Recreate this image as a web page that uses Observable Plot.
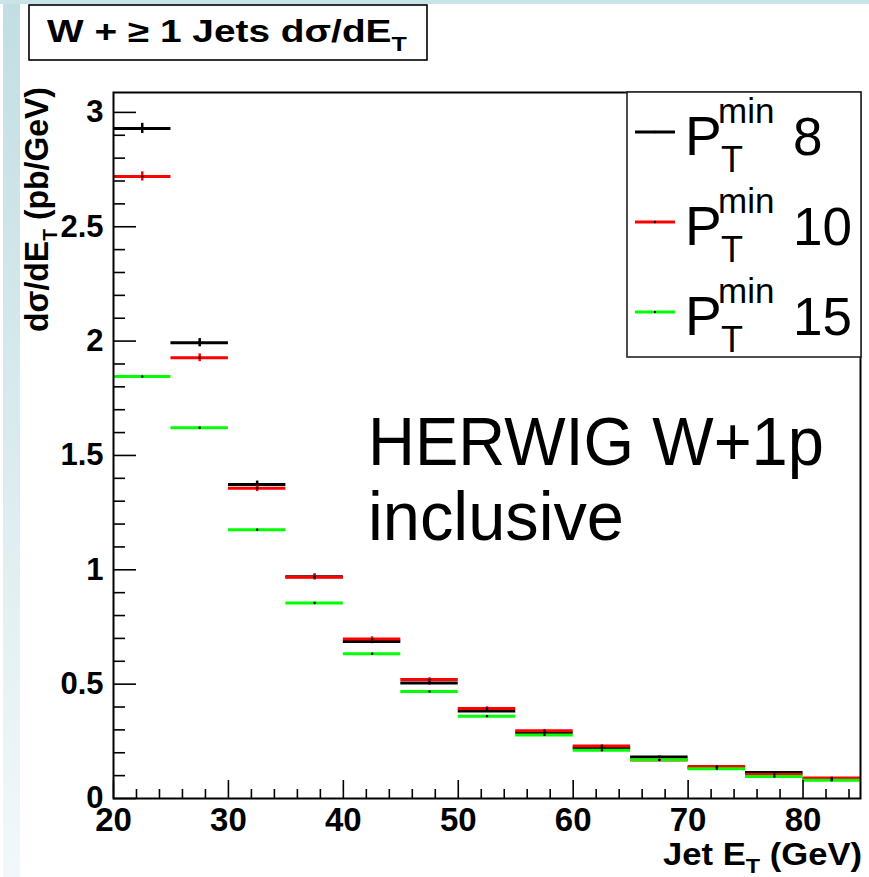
<!DOCTYPE html>
<html><head><meta charset="utf-8">
<script src="https://cdn.jsdelivr.net/npm/d3@7"></script>
<script src="https://cdn.jsdelivr.net/npm/@observablehq/plot@0.6"></script>
<style>
html,body{margin:0;padding:0;background:#fff;overflow:hidden}
#chart svg{display:block;max-width:none}
</style>
</head><body><div id="chart"></div>
<script>
// ---- data ----
const binLow = [20, 25, 30, 35, 40, 45, 50, 55, 60, 65, 70, 75, 80];
const binWidth = 5;
const seriesNames = ["8", "10", "15"];
const seriesColors = ["#000000", "#ff0000", "#00ff00"];
const pt8  = [2.930, 1.993, 1.373, 0.970, 0.687, 0.505, 0.383, 0.287, 0.221, 0.181, 0.135, 0.114, 0.085];
const pt10 = [2.720, 1.927, 1.357, 0.967, 0.697, 0.520, 0.394, 0.296, 0.230, 0.168, 0.140, 0.105, 0.090];
const pt15 = [1.845, 1.621, 1.175, 0.855, 0.633, 0.468, 0.360, 0.278, 0.211, 0.169, 0.130, 0.096, 0.080];
const err8  = [0.022, 0.018, 0.015, 0.012, 0.010, 0.008, 0.007, 0.006, 0.005, 0.005, 0.004, 0.004, 0.003];
const err10 = [0.020, 0.017, 0.015, 0.012, 0.010, 0.008, 0.007, 0.006, 0.005, 0.005, 0.004, 0.004, 0.003];
const err15 = [0.006, 0.006, 0.005, 0.005, 0.004, 0.004, 0.004, 0.003, 0.003, 0.003, 0.003, 0.002, 0.002];
const xMajor = [20, 30, 40, 50, 60, 70, 80];
const xMinor = [22, 24, 26, 28, 32, 34, 36, 38, 42, 44, 46, 48, 52, 54, 56, 58, 62, 64, 66, 68, 72, 74, 76, 78, 82, 84];
const yMajor = [0, 0.5, 1, 1.5, 2, 2.5, 3];
const yMinor = [0.1, 0.2, 0.3, 0.4, 0.6, 0.7, 0.8, 0.9, 1.1, 1.2, 1.3, 1.4, 1.6, 1.7, 1.8, 1.9,
                2.1, 2.2, 2.3, 2.4, 2.6, 2.7, 2.8, 2.9];
const xDomain = [20, 85];
const yDomain = [0, 3.087];

const values = [pt8, pt10, pt15];
const errs = [err8, err10, err15];
const rows = [];
seriesNames.forEach((s, k) => {
  binLow.forEach((lo, i) => {
    rows.push({series: s, x1: lo, x2: lo + binWidth, xc: lo + binWidth / 2,
      v: values[k][i], lo: values[k][i] - errs[k][i], hi: values[k][i] + errs[k][i]});
  });
});

const FONT = "'Liberation Sans', Arial, Helvetica, sans-serif";
const fmt = d => String(d);

const svgEl = Plot.plot({
  width: 869, height: 877,
  marginLeft: 113, marginRight: 9, marginTop: 92, marginBottom: 79,
  style: {fontFamily: FONT, background: "transparent", overflow: "visible"},
  x: {domain: xDomain},
  y: {domain: yDomain},
  color: {domain: seriesNames, range: seriesColors},
  marks: [
    Plot.ruleY(rows, {y: "v", x1: "x1", x2: "x2", stroke: "series", strokeWidth: 3}),
    Plot.ruleX(rows, {x: "xc", y1: "lo", y2: "hi", stroke: "series", strokeWidth: 2.5}),
    Plot.dot(rows, {x: "xc", y: "v", r: 1.2, fill: "black"}),
    Plot.axisY(yMajor, {tickSize: -23, fill: "none", stroke: "black", strokeWidth: 1.6, label: null}),
    Plot.axisY(yMinor, {tickSize: -12, fill: "none", stroke: "black", strokeWidth: 1.6, label: null}),
    Plot.axisY(yMajor, {tickSize: 0, tickPadding: 10, tickFormat: fmt, fontSize: 31, fontWeight: "bold", fill: "black", label: null}),
    Plot.axisX(xMajor, {tickSize: -18, fill: "none", stroke: "black", strokeWidth: 1.6, label: null}),
    Plot.axisX(xMinor, {tickSize: -9, fill: "none", stroke: "black", strokeWidth: 1.6, label: null}),
    Plot.axisX(xMajor, {tickSize: 0, tickPadding: 9, tickFormat: fmt, fontSize: 33, fontWeight: "bold", fill: "black", label: null}),
    Plot.frame({stroke: "black", strokeWidth: 2})
  ]
});
document.getElementById("chart").appendChild(svgEl);

const svg = d3.select(svgEl);

// slide background strips
const defs = svg.insert("defs", ":first-child");
const grad = defs.append("linearGradient").attr("id", "stripGrad")
  .attr("x1", 0).attr("y1", 0).attr("x2", 0).attr("y2", 1);
grad.append("stop").attr("offset", "0%").attr("stop-color", "#c2dee2");
grad.append("stop").attr("offset", "100%").attr("stop-color", "#f2f8f9");
svg.insert("rect", "defs + *").attr("x", 0).attr("y", 0).attr("width", 869).attr("height", 877).attr("fill", "#ffffff");
svg.insert("rect", "defs + rect + *").attr("x", 3).attr("y", 0).attr("width", 17).attr("height", 877).attr("fill", "url(#stripGrad)");
svg.insert("rect", "defs + rect + rect + *").attr("x", 0).attr("y", 0).attr("width", 869).attr("height", 4).attr("fill", "#c8e4e7");

function addText(x, y, size, anchor, weight) {
  return svg.append("text").attr("x", x).attr("y", y)
    .attr("text-anchor", anchor).attr("font-family", FONT)
    .attr("font-weight", weight).attr("font-size", size).attr("fill", "black");
}
function fitX(sel, x0, target) {
  const w = sel.node().getBBox().width;
  const s = target / w;
  sel.attr("transform", `translate(${x0},0) scale(${s},1) translate(${-x0},0)`);
}

// title box
svg.append("rect").attr("x", 29).attr("y", 5).attr("width", 398).attr("height", 55)
  .attr("fill", "white").attr("stroke", "black").attr("stroke-width", 1.6);
const title = addText(47, 42, 31, "start", "bold");
title.append("tspan").text("W + \u2265 1 Jets d\u03C3/dE");
title.append("tspan").attr("dy", 9).attr("font-size", 20).text("T");
fitX(title, 47, 360);

// y axis label (rotated, reading bottom to top, ending near the top of the axis)
const ylab = svg.append("text").attr("text-anchor", "end")
  .attr("font-family", FONT).attr("font-weight", "bold").attr("font-size", 33).attr("fill", "black");
ylab.append("tspan").text("d\u03C3/dE");
ylab.append("tspan").attr("dy", 9).attr("font-size", 20).text("T");
ylab.append("tspan").attr("dy", -9).text(" (pb/GeV)");
{
  const w = ylab.node().getBBox().width;
  ylab.attr("transform", `translate(48,87) rotate(-90) scale(${245 / w},1)`);
}

// x axis label
const xlab = addText(862, 865, 31, "end", "bold");
xlab.append("tspan").text("Jet E");
xlab.append("tspan").attr("dy", 8).attr("font-size", 21).text("T");
xlab.append("tspan").attr("dy", -8).text(" (GeV)");
fitX(xlab, 862, 199);

// annotation
const ann1 = addText(368, 465, 69, "start", "normal").text("HERWIG W+1p");
fitX(ann1, 368, 456);
const ann2 = addText(368, 540, 69, "start", "normal").text("inclusive");
fitX(ann2, 368, 256);

// legend
svg.append("rect").attr("x", 627).attr("y", 92).attr("width", 234).attr("height", 265)
  .attr("fill", "white").attr("stroke", "#222").attr("stroke-width", 1.6);
const legBase = [155, 245, 335];
seriesNames.forEach((name, k) => {
  const b = legBase[k];
  svg.append("line").attr("x1", 635).attr("x2", 675).attr("y1", b - 23).attr("y2", b - 23)
    .attr("stroke", seriesColors[k]).attr("stroke-width", 3);
  svg.append("circle").attr("cx", 655).attr("cy", b - 23).attr("r", 1.2).attr("fill", "black");
  addText(685, b, 55, "start", "normal").text("P");
  addText(718, b - 32, 35, "start", "normal").text("min");
  addText(721, b + 17, 36, "start", "normal").text("T");
  addText(793, b, 53, "start", "normal").text(name);
});
</script>
</body></html>
